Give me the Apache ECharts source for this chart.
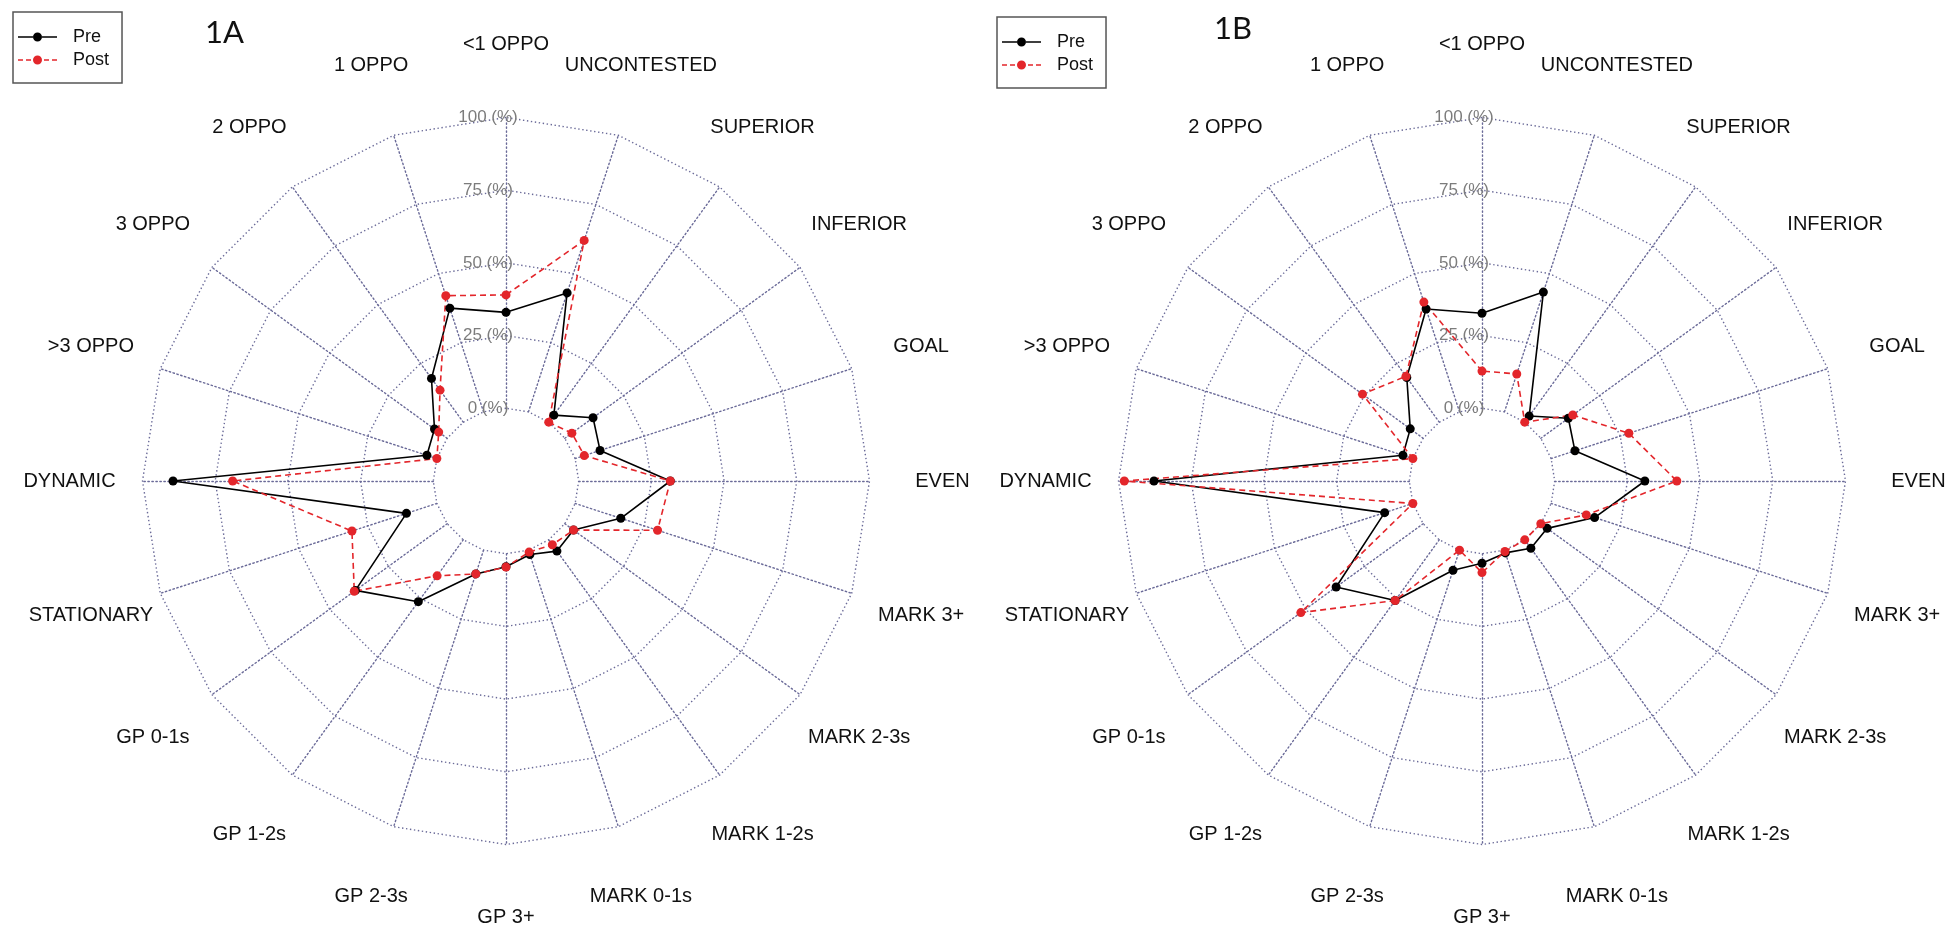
<!DOCTYPE html>
<html>
<head>
<meta charset="utf-8">
<script src="https://cdn.jsdelivr.net/npm/echarts@6.0.0/dist/echarts.min.js"></script>
<style>
  html, body { margin: 0; padding: 0; background: #ffffff; }
  #chart { width: 1950px; height: 939px; }
</style>
</head>
<body>
<div id="chart"></div>
<script>
// Indicators, listed counter-clockwise starting at the top (ECharts radar order)
const indicatorNames = ['<1 OPPO', '1 OPPO', '2 OPPO', '3 OPPO', '>3 OPPO', 'DYNAMIC', 'STATIONARY',
  'GP 0-1s', 'GP 1-2s', 'GP 2-3s', 'GP 3+', 'MARK 0-1s', 'MARK 1-2s', 'MARK 2-3s', 'MARK 3+',
  'EVEN', 'GOAL', 'INFERIOR', 'SUPERIOR', 'UNCONTESTED'];

// Panel 1A (percent)
const preA  = [33, 37.5, 18.6, 5.4, 3.6, 89.5, 11, 39, 26.3, 8.6, 4.5, 1.6, 4.8, 3.7, 16.5, 31.5, 9, 12, 3, 43];
const postA = [39, 42, 13.6, 3.6, 0, 69, 30.7, 39.5, 15.3, 8.6, 4.6, 0.7, 2.1, 3.7, 29.8, 31.5, 3.3, 3, 0, 62];

// Panel 1B (percent)
const preB  = [32.7, 37.2, 19, 5.5, 3.6, 87.8, 10.2, 37, 25.8, 7.3, 3.3, 1, 3.6, 2.7, 15.7, 31, 8.6, 11.7, 2.6, 43.3];
const postB = [12.8, 39.7, 19.5, 25.8, 0, 98, 0, 52, 25.8, 0, 6.5, 0.5, 0, 0, 12.7, 42, 28.1, 13.6, 0, 13.7];

const panelTitles = ['1A', '1B'];
const seriesNames = ['Pre', 'Post'];
const axisMin = 0, axisMax = 100, axisStep = 25;

const GRID = '#6a6a98';
const PRE_COLOR = '#000000';
const POST_COLOR = '#e3262b';

function makeRadar(cx) {
  return {
    center: [cx, 481],
    radius: [72.7, 363.5],
    startAngle: 90,
    shape: 'polygon',
    splitNumber: (axisMax - axisMin) / axisStep,
    nameGap: 73,
    axisName: {
      color: '#111111', fontSize: 20, fontFamily: '"Liberation Sans", Arial, sans-serif',
      align: 'center', verticalAlign: 'middle'
    },
    indicator: indicatorNames.map(function (n, i) {
      const o = { name: n, min: axisMin, max: axisMax };
      if (i === 0) o.axisLabel = { show: true };
      return o;
    }),
    axisLine: { show: true, lineStyle: { color: GRID, width: 1.4, type: [1.4, 2.6] } },
    splitLine: { show: true, lineStyle: { color: GRID, width: 1.4, type: [1.4, 2.6] } },
    splitArea: { show: false },
    axisTick: { show: false },
    axisLabel: {
      show: false, formatter: '{value} (%)', color: '#7c7c7c', fontSize: 17,
      fontFamily: '"Liberation Sans", Arial, sans-serif',
      align: 'center', verticalAlign: 'middle', margin: 18
    }
  };
}

function makeSeries(radarIndex, pre, post) {
  return {
    type: 'radar', radarIndex: radarIndex, symbol: 'circle', symbolSize: 9,
    data: [
      { name: seriesNames[0], value: pre,
        lineStyle: { color: PRE_COLOR, width: 1.6, type: 'solid' },
        itemStyle: { color: PRE_COLOR } },
      { name: seriesNames[1], value: post,
        lineStyle: { color: POST_COLOR, width: 1.6, type: [6, 4] },
        itemStyle: { color: POST_COLOR } }
    ]
  };
}

// legend icons: short line (solid / dashed) with a dot; degenerate points widen the icon box
const preIcon = 'path://M0,8.2L15,8.2L15,9.8L0,9.8Z M24,8.2L39,8.2L39,9.8L24,9.8Z M15,9a4.5,4.5 0 1,0 9,0a4.5,4.5 0 1,0 -9,0Z M0,0L0,0Z M50,18L50,18Z';
const postIcon = 'path://M0,8.3L5,8.3L5,9.7L0,9.7Z M8,8.3L13,8.3L13,9.7L8,9.7Z M26,8.3L31,8.3L31,9.7L26,9.7Z M34,8.3L39,8.3L39,9.7L34,9.7Z M15,9a4.5,4.5 0 1,0 9,0a4.5,4.5 0 1,0 -9,0Z M0,0L0,0Z M50,18L50,18Z';

function makeLegend(left, top) {
  return {
    left: left, top: top, orient: 'vertical', selectedMode: false,
    data: [{ name: seriesNames[0], icon: preIcon }, { name: seriesNames[1], icon: postIcon }],
    itemWidth: 50, itemHeight: 18, itemGap: 5,
    padding: [16, 13, 14, 5],
    borderColor: '#555555', borderWidth: 1.5,
    itemStyle: { borderWidth: 0 },
    textStyle: { fontSize: 18, color: '#111111', fontFamily: '"Liberation Sans", Arial, sans-serif' }
  };
}

const chart = echarts.init(document.getElementById('chart'));
chart.setOption({
  backgroundColor: '#ffffff',
  animation: false,
  title: [
    { text: panelTitles[0], left: 200, top: 12, textStyle: { fontSize: 31, fontWeight: 'normal', color: '#111', fontFamily: 'Lato, "Open Sans", sans-serif' } },
    { text: panelTitles[1], left: 1209, top: 8, textStyle: { fontSize: 31, fontWeight: 'normal', color: '#111', fontFamily: 'Lato, "Open Sans", sans-serif' } }
  ],
  legend: [makeLegend(13, 12), makeLegend(997, 17)],
  radar: [makeRadar(506), makeRadar(1482)],
  series: [makeSeries(0, preA, postA), makeSeries(1, preB, postB)]
});
</script>
</body>
</html>
